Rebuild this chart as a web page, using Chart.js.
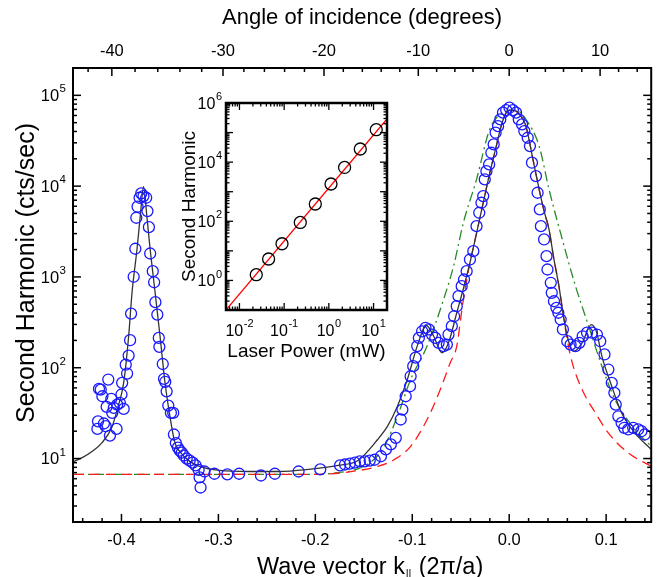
<!DOCTYPE html>
<html><head><meta charset="utf-8">
<script src="https://cdn.jsdelivr.net/npm/chart.js@4/dist/chart.umd.min.js"></script>
<style>
html,body{margin:0;padding:0;background:#fff;}
#wrap{position:relative;width:658px;height:577px;overflow:hidden;}
#main{position:absolute;left:0;top:0;}
#inset{position:absolute;left:150px;top:80px;}
</style></head><body>
<div id="wrap"><canvas id="main" width="658" height="577"></canvas><canvas id="inset" width="250" height="290"></canvas></div>
<script>
// ---------- main chart data ----------
const dataK = [-0.4248,-0.4242,-0.4232,-0.4214,-0.4197,-0.4181,-0.4163,-0.4153,-0.4136,-0.4119,-0.4105,-0.4095,-0.4079,-0.4051,-0.4044,-0.4017,-0.4000,-0.3993,-0.3977,-0.3956,-0.3942,-0.3926,-0.3911,-0.3901,-0.3874,-0.3857,-0.3847,-0.3834,-0.3813,-0.3796,-0.3773,-0.3745,-0.3732,-0.3717,-0.3704,-0.3677,-0.3663,-0.3650,-0.3630,-0.3615,-0.3609,-0.3574,-0.3561,-0.3548,-0.3534,-0.3517,-0.3490,-0.3466,-0.3459,
 -0.3439,-0.3418,-0.3398,-0.3378,-0.3357,-0.3327,-0.3296,-0.3265,-0.3235,-0.3204,-0.3194,-0.3184,-0.3143,-0.3041,-0.2908,-0.2786,-0.2561,-0.2418,-0.2173,-0.1949,-0.1745,-0.1694,-0.1643,-0.1592,-0.1541,-0.1490,-0.1439,-0.1388,
 -0.1323,-0.1272,-0.1221,-0.1170,-0.1119,-0.1102,-0.1068,-0.1023,-0.1017,-0.0990,-0.0966,-0.0949,-0.0932,-0.0898,-0.0864,-0.0830,-0.0796,-0.0762,-0.0728,-0.0677,-0.0643,-0.0626,-0.0592,-0.0568,-0.0541,-0.0523,-0.0490,-0.0466,-0.0439,-0.0405,-0.0370,-0.0337,-0.0309,-0.0286,-0.0268,-0.0252,-0.0235,-0.0207,-0.0184,-0.0160,-0.0140,-0.0115,-0.0092,-0.0064,-0.0031,0.0003,0.0038,0.0071,0.0099,0.0133,0.0156,0.0191,0.0214,0.0235,0.0276,0.0293,0.0316,0.0327,0.0360,0.0385,0.0395,0.0429,0.0439,0.0462,0.0487,0.0507,0.0531,0.0554,0.0599,0.0633,0.0684,0.0724,0.0758,0.0803,0.0854,0.0905,0.0939,0.0983,0.1023,0.1058,0.1085,0.1099,0.1126,0.1160,0.1187,0.1228,0.1279,0.1330,0.1364,0.1398];
const dataSH = [21.2,25.7,58.5,57.5,48.5,24.3,22.7,37.1,74.1,17.9,45.4,31.8,36.1,21.2,39.3,41.1,50.7,68.2,35.2,108,86.3,136,201,395,1004,2043,4487,5933,7450,8318,7770,7450,5306,3535,1812,1156,874,527,385,213,170,110,75.5,70,55,38.3,31.8,31.8,18.4,
 14.8,13.2,12.2,11.6,10.8,10.0,9.5,9.0,8.4,7.5,6.2,4.8,7.2,6.8,6.7,6.8,6.5,6.8,7.2,7.6,8.4,8.6,8.8,9.0,9.3,9.3,9.5,9.7,
 10.6,12.6,14.3,16.9,26.9,34.6,48.5,62.5,80.6,104,129,173,213,252,275,264,232,213,188,173,180,232,287,369,476,614,791,937,1157,1556,1922,3625,5093,6564,7762,11850,14630,17340,23330,28820,38750,45800,54330,64400,68770,73050,68770,64400,54330,47860,40360,34120,27590,18110,12890,8460,5538,3625,2586,1693,1208,862,669,540,457,403,340,264,196,180,173,188,222,243,243,232,196,140,95.5,68.2,52.9,39.3,29.2,24.7,21.8,20.9,21.8,20.9,20.0,18.4];

const fitK  = [-0.449,-0.44,-0.43,-0.42,-0.41,-0.4044,-0.3977,-0.3926,-0.3891,-0.3840,-0.3806,-0.3772,-0.3738,-0.3704,-0.3653,-0.3602,-0.3551,-0.3500,-0.3449,-0.3398,-0.3296,-0.3194,-0.299,-0.2684,-0.2378,-0.2071,-0.1765,-0.1561,-0.1357,-0.1255,-0.1153,-0.1051,-0.0949,-0.0854,-0.0779,-0.0694,-0.0626,-0.0541,-0.0470,-0.0405,-0.0335,-0.0268,-0.0200,-0.0133,-0.0080,-0.0031,0.0003,0.0071,0.0120,0.0173,0.0245,0.0309,0.0360,0.0411,0.0460,0.0513,0.0560,0.0599,0.0666,0.0752,0.0847,0.0900,0.0956,0.1058,0.1160,0.1296,0.1466];
const fitSH = [9.3,10.3,12.0,15.0,22.0,34.6,68.7,222,674,2006,4670,9850,4670,2006,674,222,68.7,29.2,15.0,11.9,9.3,8.2,7.4,7.2,7.2,7.6,8.4,9.5,16.2,22.7,37.7,74.1,173,292,222,146,188,403,760,1432,3100,6564,14000,27600,47000,64400,68700,67000,59000,45800,19700,9200,5300,3334,1600,791,370,222,152,188,299,250,134,62.5,31.8,19.2,12.6];

const redK  = [-0.449,-0.30,-0.20,-0.1663,-0.1357,-0.1187,-0.1017,-0.0847,-0.0711,-0.0609,-0.0541,-0.0480,-0.0405,-0.0335,-0.0268,-0.0200,-0.0133,-0.0080,-0.0031,0.0003,0.0071,0.0120,0.0173,0.0245,0.0309,0.0360,0.0411,0.0460,0.0513,0.0560,0.0600,0.0650,0.0752,0.0888,0.1020,0.1224,0.1466];
const redSH = [6.7,6.7,6.7,7.1,8.2,9.7,13.6,26.9,57.5,113,173,500,1432,3100,6564,14000,27600,47000,64400,68700,67000,59000,45800,19700,9200,5300,3334,1600,791,370,200,114,57.5,32,19.3,11.6,8.2];

const greenK  = [-0.449,-0.30,-0.20,-0.1765,-0.1561,-0.1408,-0.1289,-0.1153,-0.1017,-0.0847,-0.0677,-0.0574,-0.0472,-0.0337,-0.0201,-0.0064,0.0071,0.0173,0.0309,0.0411,0.0548,0.0684,0.0820,0.0956,0.1092,0.1296,0.1466];
const greenSH = [6.7,6.7,6.7,7.0,7.7,9.5,13.6,29.2,74.1,173,565,1313,3981,11850,42170,64400,68700,54330,27600,9200,2586,791,287,104,44.7,20.9,13.6];

const kTicks = [-0.4,-0.3,-0.2,-0.1,0.0,0.1];
const yTickExps = [1,2,3,4,5];
const angleTicks = [-40,-30,-20,-10,0,10];
// angle -> wave-vector mapping coefficients
const angA = 0.0932, angB = 0.00058;
const angleToK = a => { const t = a/10; return angA*t + angB*t*t*t; };

// ---------- inset data ----------
const powerMW = [0.0238,0.0449,0.0895,0.2297,0.498,1.117,2.25,5.05,11.5];
const insetSH = [1.56,5.3,17.4,91.5,384,1820,6630,27800,125000];
const insetLineP  = [0.005,20];
const insetLineSH = [0.1,290000];
const insetXExps = [-2,-1,0,1];
const insetYExps = [0,2,4,6];

const FONT = "'Liberation Sans', Arial, sans-serif";
const pts = (xs, ys) => xs.map((x,i)=>({x, y:ys[i]}));

function line(ctx,x1,y1,x2,y2){ctx.beginPath();ctx.moveTo(x1,y1);ctx.lineTo(x2,y2);ctx.stroke();}
function logTickValues(min,max){const out=[];for(let d=-3;d<=7;d++){for(let m=1;m<=9;m++){const v=m*Math.pow(10,d);if(v>=min*0.999&&v<=max*1.001)out.push({v,major:m===1});}}return out;}
// draws "10" with a raised exponent; align = 'right' | 'center'
function drawPow(ctx, exp, x, y, align, b, s){
  const e = String(exp);
  ctx.font = b+'px '+FONT; const w1 = ctx.measureText('10').width;
  ctx.font = s+'px '+FONT; const w2 = ctx.measureText(e).width;
  const tot = w1 + w2 + 0.5;
  let sx = align==='right' ? x - tot : x - tot/2;
  ctx.textAlign='left'; ctx.textBaseline='alphabetic';
  ctx.font = b+'px '+FONT; ctx.fillText('10', sx, y + b*0.36);
  ctx.font = s+'px '+FONT; ctx.fillText(e, sx + w1 + 0.5, y - b*0.18);
}

const mainFrame = {
  id:'mainFrame',
  afterDraw(chart){
    const {ctx, chartArea:a, scales} = chart;
    const x = scales.x, y = scales.y;
    ctx.save();
    ctx.strokeStyle = '#000'; ctx.lineWidth = 1.5;
    for(let i=-23;i<=8;i++){const v=i*0.02; if(v<x.min||v>x.max) continue; const px=x.getPixelForValue(v); const L=(i%5===0)?8:4; line(ctx,px,a.bottom,px,a.bottom-L);}
    for(let t=-44;t<=16;t+=2){const v=angleToK(t); if(v<x.min||v>x.max) continue; const px=x.getPixelForValue(v); const L=(t%10===0)?8:4; line(ctx,px,a.top,px,a.top+L);}
    for(const tk of logTickValues(y.min,y.max)){const py=y.getPixelForValue(tk.v); const L=tk.major?8:4; line(ctx,a.left,py,a.left+L,py); line(ctx,a.right,py,a.right-L,py);}
    ctx.lineWidth = 2;
    ctx.strokeRect(a.left,a.top,a.right-a.left,a.bottom-a.top);
    ctx.fillStyle = '#000';
    // y tick labels (powers of ten)
    for(const e of yTickExps){ drawPow(ctx, e, a.left-7, y.getPixelForValue(Math.pow(10,e)), 'right', 16.5, 11.5); }
    // titles
    ctx.font = '22px ' + FONT;
    ctx.textAlign = 'center'; ctx.textBaseline = 'middle';
    ctx.fillText('Angle of incidence (degrees)', (a.left+a.right)/2, 18);
    ctx.save(); ctx.translate(27, 273); ctx.rotate(-Math.PI/2); ctx.font = '25px ' + FONT; ctx.fillText('Second Harmonic (cts/sec)', 0, 0); ctx.restore();
    // bottom title with subscript
    const p1 = 'Wave vector k', p2 = '||', p3 = ' (2\u03C0/a)';
    const bs = 23.5;
    ctx.font = bs+'px ' + FONT; const w1 = ctx.measureText(p1).width, w3 = ctx.measureText(p3).width;
    ctx.font = '11px ' + FONT; const w2 = ctx.measureText(p2).width + 1.5;
    const tot = w1+w2+w3; let sx = (a.left+a.right)/2 + 8 - tot/2; const by = 574;
    ctx.textAlign='left'; ctx.textBaseline='alphabetic';
    ctx.font = bs+'px ' + FONT; ctx.fillText(p1, sx, by); sx += w1;
    ctx.font = '11px ' + FONT; ctx.fillText(p2, sx+0.8, by+3); sx += w2;
    ctx.font = bs+'px ' + FONT; ctx.fillText(p3, sx, by);
    ctx.restore();
  }
};

new Chart(document.getElementById('main'), {
  type:'scatter',
  data:{datasets:[
    {label:'data', data:pts(dataK,dataSH), showLine:false, pointStyle:'circle', pointRadius:5.5, pointBorderWidth:1.3, borderColor:'#1a1aff', backgroundColor:'rgba(0,0,0,0)', order:0},
    {label:'fit', data:pts(fitK,fitSH), showLine:true, pointRadius:0, borderColor:'#333333', borderWidth:1.3, cubicInterpolationMode:'monotone', order:1},
    {label:'red', data:pts(redK,redSH), showLine:true, pointRadius:0, borderColor:'#ff1a1a', borderWidth:1.3, borderDash:[10,6], cubicInterpolationMode:'monotone', order:2},
    {label:'green', data:pts(greenK,greenSH), showLine:true, pointRadius:0, borderColor:'#2a8a2a', borderWidth:1.3, borderDash:[10,4,2,4], cubicInterpolationMode:'monotone', order:3}
  ]},
  options:{
    responsive:false, animation:false, devicePixelRatio:1,
    layout:{padding:{left:0,right:1,top:0,bottom:0}},
    plugins:{legend:{display:false}, tooltip:{enabled:false}},
    scales:{
      x:{type:'linear', position:'bottom', min:-0.45, max:0.1465,
         grid:{display:false, drawTicks:false}, border:{display:false},
         ticks:{autoSkip:false, maxRotation:0, padding:9, color:'#000', font:{family:FONT, size:16.5}, callback:v=>v.toFixed(1)},
         afterBuildTicks:s=>{s.ticks = kTicks.map(v=>({value:v}));},
         afterFit:s=>{s.height=55;}},
      xTop:{type:'linear', position:'top', min:-0.45, max:0.1465,
         grid:{display:false, drawTicks:false}, border:{display:false},
         ticks:{autoSkip:false, maxRotation:0, padding:7, color:'#000', font:{family:FONT, size:16.5}, callback:(v,i)=>String(angleTicks[i])},
         afterBuildTicks:s=>{s.ticks = angleTicks.map(a=>({value:angleToK(a)}));},
         afterFit:s=>{s.height=68;}},
      y:{type:'logarithmic', position:'left', min:2, max:200000,
         grid:{display:false, drawTicks:false}, border:{display:false},
         ticks:{display:false},
         afterFit:s=>{s.width=73;}}
    }
  },
  plugins:[mainFrame]
});

// ---------- inset ----------
const insetFrame = {
  id:'insetFrame',
  afterDraw(chart){
    const {ctx, chartArea:a, scales} = chart;
    const x = scales.x, y = scales.y;
    ctx.save();
    ctx.strokeStyle='#000'; ctx.lineWidth=1.3;
    for(const tk of logTickValues(x.min,x.max)){const px=x.getPixelForValue(tk.v); const L=tk.major?7:3.5; line(ctx,px,a.bottom,px,a.bottom-L); line(ctx,px,a.top,px,a.top+L);}
    for(const tk of logTickValues(y.min,y.max)){const py=y.getPixelForValue(tk.v); const L=tk.major?7:3.5; line(ctx,a.left,py,a.left+L,py); line(ctx,a.right,py,a.right-L,py);}
    ctx.lineWidth=2.5;
    ctx.strokeRect(a.left,a.top,a.right-a.left,a.bottom-a.top);
    ctx.fillStyle='#000';
    for(const e of insetXExps){ drawPow(ctx, e, x.getPixelForValue(Math.pow(10,e)), a.bottom+20, 'center', 16, 11); }
    for(const e of insetYExps){ drawPow(ctx, e, a.left-4, y.getPixelForValue(Math.pow(10,e)), 'right', 16, 11); }
    ctx.font='19px '+FONT; ctx.textAlign='center'; ctx.textBaseline='middle';
    ctx.fillText('Laser Power (mW)', (a.left+a.right)/2, 272);
    ctx.save(); ctx.translate(40,(a.top+a.bottom)/2); ctx.rotate(-Math.PI/2); ctx.fillText('Second Harmonic',0,0); ctx.restore();
    ctx.restore();
  }
};
new Chart(document.getElementById('inset'), {
  type:'scatter',
  data:{datasets:[
    {label:'power', data:pts(powerMW,insetSH), showLine:false, pointStyle:'circle', pointRadius:6, pointBorderWidth:1.3, borderColor:'#000', backgroundColor:'rgba(0,0,0,0)', order:0},
    {label:'fitline', data:pts(insetLineP,insetLineSH), showLine:true, pointRadius:0, borderColor:'#ff0000', borderWidth:1.3, order:1}
  ]},
  options:{
    responsive:false, animation:false, devicePixelRatio:1,
    layout:{padding:{left:0,right:13,top:23,bottom:0}},
    plugins:{legend:{display:false}, tooltip:{enabled:false}},
    scales:{
      x:{type:'logarithmic', min:0.005, max:20, grid:{display:false,drawTicks:false}, border:{display:false},
         ticks:{display:false},
         afterFit:s=>{s.height=60;}},
      y:{type:'logarithmic', min:0.1, max:1000000, grid:{display:false,drawTicks:false}, border:{display:false},
         ticks:{display:false},
         afterFit:s=>{s.width=76;}}
    }
  },
  plugins:[insetFrame]
});
</script>
</body></html>
